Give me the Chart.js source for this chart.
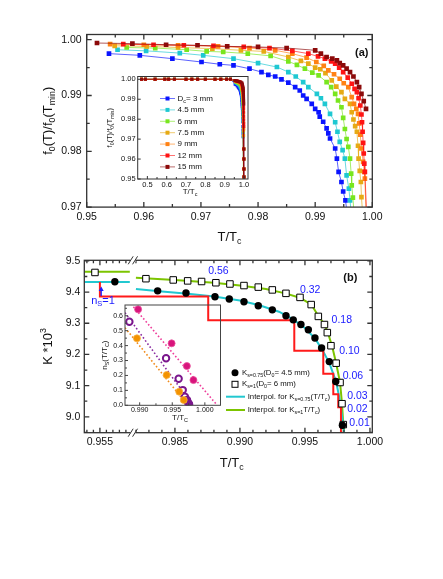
<!DOCTYPE html>
<html><head><meta charset="utf-8">
<script src="https://cdn.jsdelivr.net/npm/chart.js@4.4.1/dist/chart.umd.min.js"></script>
<style>
html,body{margin:0;padding:0;background:#fff;}
#wrap{position:relative;width:443px;height:579px;overflow:hidden;background:#fff;}
canvas{position:absolute;}
</style></head><body>
<div id="wrap">
<canvas id="cA" width="443" height="250" style="left:0;top:0;width:443px;height:250px"></canvas>
<canvas id="cAi" width="160" height="130" style="left:95px;top:70px;width:160px;height:130px"></canvas>
<canvas id="cB" width="443" height="329" style="left:0;top:250px;width:443px;height:329px"></canvas>
<canvas id="cBi" width="140" height="135" style="left:90px;top:295px;width:140px;height:135px"></canvas>
</div>
<script>
// ---------------- DATA: panel (a) ----------------
const seriesNames = ['3 mm', '4.5 mm', '6 mm', '7.5 mm', '9 mm', '12 mm', '15 mm'];
const d3mm = [[0.9539,0.9975],[0.9593,0.9972],[0.9650,0.9966],[0.9701,0.9960],[0.9733,0.9956],[0.9757,0.9954],[0.9785,0.9948],[0.9806,0.9942],[0.9818,0.9937],[0.9830,0.9934],[0.9841,0.9929],[0.9853,0.9923],[0.9865,0.9915],[0.9873,0.9909],[0.9879,0.9900],[0.9885,0.9894],[0.9894,0.9885],[0.9900,0.9876],[0.9906,0.9870],[0.9908,0.9862],[0.9914,0.9853],[0.9920,0.9841],[0.9923,0.9832],[0.9926,0.9823],[0.9935,0.9805],[0.9938,0.9787],[0.9941,0.9763],[0.9946,0.9745],[0.9949,0.9728],[0.9953,0.9712],[0.9956,0.9690]];
const d45mm = [[0.9554,0.9982],[0.9604,0.9980],[0.9663,0.9976],[0.9704,0.9972],[0.9757,0.9966],[0.9800,0.9958],[0.9833,0.9951],[0.9853,0.9942],[0.9866,0.9934],[0.9879,0.9924],[0.9888,0.9915],[0.9903,0.9903],[0.9910,0.9895],[0.9917,0.9885],[0.9926,0.9867],[0.9935,0.9852],[0.9939,0.9835],[0.9943,0.9817],[0.9948,0.9802],[0.9952,0.9787],[0.9955,0.9757],[0.9959,0.9733],[0.9961,0.9712],[0.9963,0.9690]];
const d6mm = [[0.9570,0.9986],[0.9620,0.9985],[0.9675,0.9982],[0.9710,0.9979],[0.9739,0.9978],[0.9782,0.9975],[0.9822,0.9971],[0.9853,0.9961],[0.9868,0.9955],[0.9882,0.9948],[0.9895,0.9941],[0.9906,0.9936],[0.9920,0.9924],[0.9928,0.9915],[0.9935,0.9903],[0.9940,0.9891],[0.9946,0.9879],[0.9949,0.9860],[0.9952,0.9840],[0.9955,0.9822],[0.9958,0.9808],[0.9961,0.9787],[0.9963,0.9760],[0.9964,0.9739],[0.9966,0.9717],[0.9968,0.9690]];
const d75mm = [[0.9549,0.9989],[0.9605,0.9988],[0.9660,0.9986],[0.9720,0.9984],[0.9770,0.9981],[0.9810,0.9979],[0.9853,0.9969],[0.9875,0.9962],[0.9888,0.9957],[0.9900,0.9950],[0.9909,0.9947],[0.9918,0.9940],[0.9929,0.9927],[0.9937,0.9916],[0.9946,0.9906],[0.9952,0.9894],[0.9961,0.9885],[0.9964,0.9870],[0.9967,0.9857],[0.9970,0.9845],[0.9973,0.9835],[0.9975,0.9810],[0.9976,0.9787],[0.9978,0.9765],[0.9980,0.9745],[0.9981,0.9718],[0.9983,0.9690]];
const d9mm = [[0.9541,0.9992],[0.9600,0.9991],[0.9660,0.9990],[0.9730,0.9988],[0.9785,0.9985],[0.9830,0.9981],[0.9860,0.9975],[0.9885,0.9968],[0.9902,0.9960],[0.9915,0.9953],[0.9923,0.9945],[0.9933,0.9938],[0.9943,0.9930],[0.9950,0.9922],[0.9958,0.9915],[0.9964,0.9897],[0.9968,0.9885],[0.9972,0.9876],[0.9975,0.9867],[0.9977,0.9850],[0.9979,0.9830],[0.9981,0.9805],[0.9984,0.9781],[0.9986,0.9763],[0.9987,0.9751],[0.9989,0.9690]];
const d12mm = [[0.9564,0.9992],[0.9617,0.9991],[0.9670,0.9990],[0.9722,0.9989],[0.9775,0.9987],[0.9820,0.9985],[0.9860,0.9980],[0.9888,0.9975],[0.9905,0.9970],[0.9917,0.9966],[0.9928,0.9961],[0.9935,0.9957],[0.9942,0.9950],[0.9949,0.9942],[0.9957,0.9932],[0.9964,0.9921],[0.9969,0.9912],[0.9973,0.9906],[0.9976,0.9895],[0.9979,0.9882],[0.9981,0.9866],[0.9982,0.9852],[0.9983,0.9835],[0.9984,0.9815],[0.9985,0.9796],[0.9986,0.9778],[0.9987,0.9763],[0.9990,0.9690]];
const d15mm = [[0.9518,0.9994],[0.9580,0.9993],[0.9639,0.9991],[0.9694,0.9990],[0.9746,0.9988],[0.9800,0.9987],[0.9850,0.9985],[0.9900,0.9981],[0.9910,0.9975],[0.9920,0.9969],[0.9930,0.9966],[0.9938,0.9963],[0.9943,0.9958],[0.9949,0.9954],[0.9955,0.9948],[0.9961,0.9942],[0.9967,0.9934],[0.9973,0.9924],[0.9977,0.9915],[0.9981,0.9903],[0.9985,0.9890],[0.9989,0.9876]];
const seriesColors = ['#0a14ff', '#1ec8d2', '#78e61e', '#e6aa14', '#ff8214', '#ff1414', '#8c0a0a'];
// inset (a): low temperature points (all at 1.00) and the steep tail
const insetLowT = [0.47, 0.49, 0.54, 0.59, 0.61, 0.64, 0.70, 0.73, 0.76, 0.80, 0.85, 0.88, 0.91, 0.93];
const insetLowF = 1.000;
const insetTail = [[0.9990,0.965],[0.9993,0.960],[0.9996,0.955],[0.9998,0.951]];

// ---------------- DATA: panel (b) ----------------
const BREAK_SHIFT = 0.02423;           // axis break: left block 0.9538-0.9573 is shifted next to 0.982
const circT = [0.95615,0.98367,0.98585,0.98808,0.98918,0.99031,0.99141,0.99249,0.99354,0.99410,0.99469,0.99526,0.99577,0.99628,0.99687,0.99737,0.99788];
const circK = [9.433,9.404,9.397,9.385,9.378,9.369,9.356,9.343,9.324,9.311,9.296,9.279,9.253,9.221,9.177,9.113,8.973];
const sqT = [0.95462,0.98277,0.98487,0.98598,0.98705,0.98815,0.98923,0.99031,0.99141,0.99249,0.99354,0.99462,0.99548,0.99603,0.99650,0.99672,0.99700,0.99740,0.99770,0.99785,0.99795];
const sqK = [9.463,9.443,9.439,9.436,9.434,9.430,9.426,9.421,9.416,9.407,9.396,9.383,9.360,9.322,9.296,9.270,9.228,9.172,9.110,9.042,8.975];
const cyanLeft = [[0.9538,9.432],[0.9573,9.432]];
const cyanRight = [[0.9820,9.410],[0.9840,9.402],[0.9860,9.395],[0.9880,9.386],[0.9900,9.373],[0.9915,9.358],[0.9930,9.337],[0.9940,9.315],[0.9950,9.285],[0.9958,9.250],[0.9964,9.210],[0.9969,9.170],[0.9974,9.112],[0.9977,9.050],[0.9979,8.985],[0.9980,8.949]];
const greenLeft = [[0.9538,9.465],[0.9573,9.465]];
const greenRight = [[0.9820,9.446],[0.9850,9.439],[0.9880,9.430],[0.9900,9.421],[0.9920,9.410],[0.9935,9.396],[0.9946,9.382],[0.9955,9.360],[0.9960,9.325],[0.9965,9.297],[0.9968,9.265],[0.9971,9.225],[0.9974,9.172],[0.9977,9.110],[0.99785,9.042],[0.99795,8.975],[0.9980,8.949]];
const stepT = [0.9550,0.98756,0.99418,0.99641,0.99718,0.99756,0.99777,0.99795];
const stepK = [9.432,9.386,9.310,9.212,9.138,9.072,9.031,8.949];
const nsLabels = ['0.56','0.32','0.18','0.10','0.06','0.03','0.02','0.01'];
const nsLabelT = [0.98756,0.99462,0.99705,0.99764,0.99790,0.99825,0.99825,0.99841];
const nsLabelK = [9.467,9.405,9.310,9.211,9.132,9.067,9.024,8.979];
const nsOneAt = [0.9551, 9.432];
// inset (b)
const magT = [0.98976,0.99490,0.99724,0.99825], magN = [0.643,0.415,0.263,0.169];
const purT = [0.98842,0.99405,0.99598,0.99661,0.99694,0.99727,0.99742,0.99757], purN = [0.560,0.315,0.178,0.102,0.058,0.036,0.018,0.009];
const orgT = [0.98958,0.99414,0.99607,0.99676], orgN = [0.449,0.203,0.091,0.036];
const magFitT = [0.98904,1.0019], magFitN = [0.66,0];
const purFitT = [0.98775,0.99815], purFitN = [0.62,0];
const orgFitT = [0.98775,0.99738], orgFitN = [0.52,0];

// ---------------- TICKS ----------------
const xMajA = [0.95,0.96,0.97,0.98,0.99,1.00], xLabA = ['0.95','0.96','0.97','0.98','0.99','1.00'];
const xMinA = [0.955,0.965,0.975,0.985,0.995];
const yMajA = [0.97,0.98,0.99,1.00], yLabA = ['0.97','0.98','0.99','1.00'];
const yMinA = [0.975,0.985,0.995];
const xMajAi = [0.5,0.6,0.7,0.8,0.9,1.0], xLabAi = ['0.5','0.6','0.7','0.8','0.9','1.0'];
const xMinAi = [0.55,0.65,0.75,0.85,0.95];
const yMajAi = [0.95,0.96,0.97,0.98,0.99,1.00], yLabAi = ['0.95','0.96','0.97','0.98','0.99','1.00'];
const xMajB = [0.955,0.985,0.990,0.995,1.000], xLabB = ['0.955','0.985','0.990','0.995','1.000'];
const xMinB = [0.9540,0.9545,0.9555,0.9560,0.9565,0.9570,0.982,0.983,0.984,0.986,0.987,0.988,0.989,0.991,0.992,0.993,0.994,0.996,0.997,0.998,0.999];
const yMajB = [9.0,9.1,9.2,9.3,9.4,9.5], yLabB = ['9.0','9.1','9.2','9.3','9.4','9.5'];
const yMinB = [8.95,9.05,9.15,9.25,9.35,9.45];
const xMajBi = [0.990,0.995,1.000], xLabBi = ['0.990','0.995','1.000'];
const xMinBi = [0.9925,0.9975];
const yMajBi = [0,0.1,0.2,0.3,0.4,0.5,0.6], yLabBi = ['0.0','0.1','0.2','0.3','0.4','0.5','0.6'];
const yMinBi = [0.05,0.15,0.25,0.35,0.45,0.55,0.65];

// ---------------- HELPERS ----------------
const FAM = "'Liberation Sans', Arial, Helvetica, sans-serif";
const uB = t => (t < 0.97 ? t + BREAK_SHIFT : t);
const pts = arr => arr.map(([x, y]) => ({x, y}));
const ptsB = arr => arr.map(([t, k]) => ({x: uB(t), y: k}));
const zip = (a, b, f = v => v) => a.map((v, i) => ({x: f(v), y: b[i]}));

function drawRich(ctx, parts, x, y, fs, o = {}) {
  ctx.save();
  ctx.translate(x, y);
  if (o.rotate) ctx.rotate(o.rotate);
  ctx.fillStyle = o.color || '#111';
  ctx.textBaseline = 'middle';
  ctx.textAlign = 'left';
  const segs = parts.map(p => {
    const t = p[0], k = p[1] || 'n';
    const size = k === 'n' ? fs : fs * 0.68;
    const font = (o.bold ? 'bold ' : '') + size + 'px ' + FAM;
    ctx.font = font;
    return {t, k, font, w: ctx.measureText(t).width};
  });
  const total = segs.reduce((s, g) => s + g.w, 0);
  let cx = o.align === 'center' ? -total / 2 : o.align === 'right' ? -total : 0;
  for (const g of segs) {
    ctx.font = g.font;
    const dy = g.k === 'sub' ? fs * 0.32 : g.k === 'sup' ? -fs * 0.35 : 0;
    ctx.fillText(g.t, cx, dy);
    cx += g.w;
  }
  ctx.restore();
}

const framePlugin = {
  id: 'frame',
  afterDatasetsDraw(chart, args, o) {
    const {ctx, chartArea: a} = chart;
    const x = chart.scales.x, y = chart.scales.y;
    ctx.save();
    ctx.strokeStyle = o.color; ctx.lineWidth = o.lw;
    ctx.strokeRect(a.left, a.top, a.right - a.left, a.bottom - a.top);
    ctx.beginPath();
    const tk = (vals, len, isX) => {
      for (const v of vals) {
        if (isX) {
          const p = x.getPixelForValue(o.mapX ? o.mapX(v) : v);
          if (p < a.left - 0.5 || p > a.right + 0.5) continue;
          ctx.moveTo(p, a.bottom); ctx.lineTo(p, a.bottom - len);
          if (o.mirror) { ctx.moveTo(p, a.top); ctx.lineTo(p, a.top + len); }
        } else {
          const p = y.getPixelForValue(v);
          if (p < a.top - 0.5 || p > a.bottom + 0.5) continue;
          ctx.moveTo(a.left, p); ctx.lineTo(a.left + len, p);
          if (o.mirror) { ctx.moveTo(a.right, p); ctx.lineTo(a.right - len, p); }
        }
      }
    };
    tk(o.xMaj, o.maj, true); tk(o.xMin, o.min, true);
    tk(o.yMaj, o.maj, false); tk(o.yMin, o.min, false);
    ctx.stroke();
    if (o.breakAt !== undefined) {
      const px = x.getPixelForValue(o.breakAt);
      for (const yy of [a.top, a.bottom]) {
        ctx.fillStyle = '#fff';
        ctx.fillRect(px - 2.5, yy - 2, 5, 4);
        ctx.beginPath();
        for (const off of [-2.2, 2.2]) {
          ctx.moveTo(px + off - 2.5, yy + 4);
          ctx.lineTo(px + off + 2.5, yy - 4);
        }
        ctx.lineWidth = 1; ctx.strokeStyle = o.color;
        ctx.stroke();
      }
    }
    ctx.restore();
  }
};

function axis({min, max, major, labels, size, pad, fit, isX, pos}) {
  return {
    type: 'linear', position: pos, min, max,
    grid: {display: false, drawTicks: false},
    border: {display: false},
    afterBuildTicks: s => { s.ticks = major.map(v => ({value: v})); },
    afterFit: s => { if (isX) s.height = fit; else s.width = fit; },
    ticks: {
      callback: (v, i) => labels[i],
      font: {family: FAM, size}, color: '#111', padding: pad,
      autoSkip: false, maxRotation: 0, minRotation: 0
    }
  };
}

const base = {
  responsive: false, animation: false, devicePixelRatio: 1, events: [],
};

// ---------------- PANEL (a) MAIN ----------------
const seriesA = [d3mm, d45mm, d6mm, d75mm, d9mm, d12mm, d15mm];
const orderIdx = [6, 5, 4, 3, 2, 1, 0];
const textA = {
  id: 'textA',
  afterDraw(chart) {
    const {ctx, chartArea: a} = chart;
    drawRich(ctx, [['f'], ['0', 'sub'], ['(T)/f'], ['0', 'sub'], ['(T'], ['min', 'sub'], [')']], 48, (a.top + a.bottom) / 2, 13, {align: 'center', rotate: -Math.PI / 2});
    drawRich(ctx, [['T/T'], ['c', 'sub']], (a.left + a.right) / 2, 237, 13, {align: 'center'});
    drawRich(ctx, [['(a)']], a.right - 10.5, a.top + 18.5, 11, {align: 'center', bold: true});
  }
};
new Chart(document.getElementById('cA'), {
  type: 'scatter',
  data: {
    datasets: orderIdx.map(i => ({
      label: seriesNames[i], data: pts(seriesA[i]), showLine: true,
      borderColor: seriesColors[i] + 'aa', borderWidth: 1,
      pointStyle: 'rect', pointRadius: 3.3, pointBorderWidth: 0,
      pointBackgroundColor: seriesColors[i], pointBorderColor: seriesColors[i]
    }))
  },
  options: Object.assign({}, base, {
    layout: {padding: {left: 0, top: 34.5, right: 70.7, bottom: 0}},
    plugins: {legend: {display: false}, tooltip: {enabled: false},
      frame: {color: '#333', lw: 1.3, maj: 5, min: 3, mirror: true, xMaj: xMajA, xMin: xMinA, yMaj: yMajA, yMin: yMinA}},
    scales: {
      x: axis({min: 0.95, max: 1.0, major: xMajA, labels: xLabA, size: 10.5, pad: 4, fit: 42.9, isX: true, pos: 'bottom'}),
      y: axis({min: 0.97, max: 1.00093, major: yMajA, labels: yLabA, size: 10.5, pad: 5, fit: 86.7, isX: false, pos: 'left'})
    }
  }),
  plugins: [framePlugin, textA]
});

// ---------------- PANEL (a) INSET ----------------
const textAi = {
  id: 'textAi',
  afterDraw(chart) {
    const {ctx, chartArea: a} = chart;
    drawRich(ctx, [['f'], ['0', 'sub'], ['(T)/f'], ['0', 'sub'], ['(T'], ['min', 'sub'], [')']], 15, (a.top + a.bottom) / 2, 7.5, {align: 'center', rotate: -Math.PI / 2});
    drawRich(ctx, [['T/T'], ['c', 'sub']], 95, 122, 8, {align: 'center'});
    const rowY0 = 28.5, rowDy = 11.4;
    seriesNames.forEach((nm, i) => {
      const yy = rowY0 + i * rowDy;
      ctx.save();
      ctx.strokeStyle = seriesColors[i] + '99'; ctx.lineWidth = 1;
      ctx.beginPath(); ctx.moveTo(65, yy); ctx.lineTo(80, yy); ctx.stroke();
      ctx.fillStyle = seriesColors[i]; ctx.fillRect(70.5, yy - 2, 4, 4);
      ctx.restore();
      const parts = i === 0 ? [['D'], ['c', 'sub'], ['= ' + nm]] : [[nm]];
      drawRich(ctx, parts, 82.5, yy, 8);
    });
  }
};
new Chart(document.getElementById('cAi'), {
  type: 'scatter',
  data: {
    datasets: orderIdx.map(i => ({
      data: insetLowT.map(t => ({x: t, y: insetLowF})).concat(pts(seriesA[i]).filter(p => p.y >= 0.97), pts(insetTail)),
      showLine: true, borderColor: seriesColors[i] + 'aa', borderWidth: 1,
      pointStyle: 'rect', pointRadius: 2.1, pointBorderWidth: 0,
      pointBackgroundColor: seriesColors[i], pointBorderColor: seriesColors[i]
    }))
  },
  options: Object.assign({}, base, {
    layout: {padding: {left: 0, top: 6.5, right: 7, bottom: 0}},
    plugins: {legend: {display: false}, tooltip: {enabled: false},
      frame: {color: '#333', lw: 1, maj: 3, min: 2, mirror: false, xMaj: xMajAi, xMin: xMinAi, yMaj: yMajAi, yMin: []}},
    scales: {
      x: axis({min: 0.45, max: 1.0207, major: xMajAi, labels: xLabAi, size: 7.5, pad: 1.5, fit: 21, isX: true, pos: 'bottom'}),
      y: axis({min: 0.95, max: 1.0014, major: yMajAi, labels: yLabAi, size: 7.5, pad: 2, fit: 42.7, isX: false, pos: 'left'})
    }
  }),
  plugins: [framePlugin, textAi]
});

// ---------------- PANEL (b) MAIN ----------------
const textB = {
  id: 'textB',
  afterDraw(chart) {
    const {ctx, chartArea: a} = chart;
    const x = chart.scales.x, y = chart.scales.y;
    drawRich(ctx, [['K *10'], ['3', 'sup']], 48, (a.top + a.bottom) / 2, 13, {align: 'center', rotate: -Math.PI / 2});
    drawRich(ctx, [['T/T'], ['c', 'sub']], 231.7, 213.3, 13, {align: 'center'});
    drawRich(ctx, [['(b)']], a.right - 22, a.top + 18, 11, {align: 'center', bold: true});
    // n_s labels
    nsLabels.forEach((s, i) => {
      drawRich(ctx, [[s]], x.getPixelForValue(uB(nsLabelT[i])), y.getPixelForValue(nsLabelK[i]), 10.5, {color: '#1a1aff'});
    });
    // n_S = 1 arrow
    const px = x.getPixelForValue(uB(nsOneAt[0])), py = y.getPixelForValue(nsOneAt[1]);
    ctx.save();
    ctx.strokeStyle = '#1a1aff'; ctx.fillStyle = '#1a1aff'; ctx.lineWidth = 1.3;
    ctx.beginPath(); ctx.moveTo(px, py + 14); ctx.lineTo(px, py + 8); ctx.stroke();
    ctx.beginPath(); ctx.moveTo(px, py + 4.5); ctx.lineTo(px - 2.5, py + 9); ctx.lineTo(px + 2.5, py + 9); ctx.closePath(); ctx.fill();
    ctx.restore();
    drawRich(ctx, [['n'], ['S', 'sub'], ['=1']], px - 10, py + 18.5, 11, {color: '#1a1aff'});
    // legend
    const lx = 235;
    ctx.save();
    ctx.fillStyle = '#000';
    ctx.beginPath(); ctx.arc(lx, 122.7, 3.5, 0, Math.PI * 2); ctx.fill();
    ctx.strokeStyle = '#000'; ctx.lineWidth = 1; ctx.fillStyle = '#fff';
    ctx.fillRect(lx - 3, 131.3, 6, 6); ctx.strokeRect(lx - 3, 131.3, 6, 6);
    ctx.lineWidth = 2;
    ctx.strokeStyle = '#22c8d0'; ctx.beginPath(); ctx.moveTo(226, 146.7); ctx.lineTo(245, 146.7); ctx.stroke();
    ctx.strokeStyle = '#7cc400'; ctx.beginPath(); ctx.moveTo(226, 160); ctx.lineTo(245, 160); ctx.stroke();
    ctx.restore();
    const lf = 7.8;
    drawRich(ctx, [['K'], ['s=0.75', 'sub'], ['(D'], ['0', 'sub'], ['= 4.5 mm)']], 242, 122.7, lf);
    drawRich(ctx, [['K'], ['s=1', 'sub'], ['(D'], ['0', 'sub'], ['= 6 mm)']], 242, 134.3, lf);
    drawRich(ctx, [['Interpol. for K'], ['s=0.75', 'sub'], ['(T/T'], ['c', 'sub'], [')']], 247.7, 146.7, lf);
    drawRich(ctx, [['Interpol. for K'], ['s=1', 'sub'], ['T/T'], ['c', 'sub'], [')']], 247.7, 160, lf);
  }
};
const lineDs = (data, color, w) => ({data, showLine: true, borderColor: color, borderWidth: w, pointRadius: 0});
new Chart(document.getElementById('cB'), {
  type: 'scatter',
  data: {
    datasets: [
      {data: zip(circT, circK, uB), pointStyle: 'circle', pointRadius: 3.7, pointBackgroundColor: '#000', pointBorderColor: '#000', pointBorderWidth: 0},
      {data: zip(sqT, sqK, uB), pointStyle: 'rect', pointRadius: 4.6, pointBackgroundColor: '#fff', pointBorderColor: '#000', pointBorderWidth: 1},
      Object.assign(lineDs(zip(stepT, stepK, uB), '#ff1a1a', 2), {stepped: 'after'}),
      lineDs(ptsB(cyanLeft), '#22c8d0', 2),
      lineDs(ptsB(cyanRight), '#22c8d0', 2),
      lineDs(ptsB(greenLeft), '#7cc400', 2),
      lineDs(ptsB(greenRight), '#7cc400', 2)
    ]
  },
  options: Object.assign({}, base, {
    layout: {padding: {left: 0, top: 8.3, right: 70.7, bottom: 0}},
    plugins: {legend: {display: false}, tooltip: {enabled: false},
      frame: {color: '#333', lw: 1.3, maj: 5, min: 3, mirror: true, mapX: uB, xMaj: xMajB, xMin: xMinB, yMaj: yMajB, yMin: yMinB, breakAt: (uB(0.9573) + 0.9820) / 2}},
    scales: {
      x: Object.assign(axis({min: uB(0.9538), max: 1.00018, major: xMajB.map(uB), labels: xLabB, size: 10.5, pad: 3, fit: 146.3, isX: true, pos: 'bottom'})),
      y: axis({min: 8.949, max: 9.502, major: yMajB, labels: yLabB, size: 10.5, pad: 4, fit: 84.3, isX: false, pos: 'left'})
    }
  }),
  plugins: [framePlugin, textB]
});

// ---------------- PANEL (b) INSET ----------------
const textBi = {
  id: 'textBi',
  afterDraw(chart) {
    const {ctx, chartArea: a} = chart;
    drawRich(ctx, [['n'], ['S', 'sub'], ['(T/T'], ['C', 'sub'], [')']], 15, (a.top + a.bottom) / 2, 8, {align: 'center', rotate: -Math.PI / 2});
    drawRich(ctx, [['T/T'], ['C', 'sub']], 90, 123, 8, {align: 'center'});
  }
};
const dotted = (t, n, color) => ({data: zip(t, n), showLine: true, borderColor: color, borderWidth: 1.6, borderDash: [1.6, 2.2], pointRadius: 0});
new Chart(document.getElementById('cBi'), {
  type: 'scatter',
  data: {
    datasets: [
      {data: zip(magT, magN), pointRadius: 3.5, pointBackgroundColor: '#d8147c', pointBorderColor: '#e8509c', pointBorderWidth: 0.8},
      {data: zip(orgT, orgN), pointRadius: 3.5, pointBackgroundColor: '#f39200', pointBorderColor: '#f8b040', pointBorderWidth: 0.8},
      {data: zip(purT, purN), pointRadius: 3.2, pointBorderWidth: 2, pointBorderColor: '#7a168c',
       pointBackgroundColor: c => (c.dataIndex >= 5 ? '#7a168c' : '#fff')},
      dotted(magFitT, magFitN, '#ee3d9a'),
      dotted(purFitT, purFitN, '#8a2aa0'),
      dotted(orgFitT, orgFitN, '#f08a1a')
    ]
  },
  options: Object.assign({}, base, {
    layout: {padding: {left: 0, top: 10, right: 9.5, bottom: 0}},
    plugins: {legend: {display: false}, tooltip: {enabled: false},
      frame: {color: '#444', lw: 1, maj: 3, min: 2, mirror: false, xMaj: xMajBi, xMin: xMinBi, yMaj: yMajBi, yMin: yMinBi}},
    scales: {
      x: axis({min: 0.98775, max: 1.0024, major: xMajBi, labels: xLabBi, size: 7, pad: 1, fit: 24.7, isX: true, pos: 'bottom'}),
      y: axis({min: 0, max: 0.672, major: yMajBi, labels: yLabBi, size: 7, pad: 2, fit: 35, isX: false, pos: 'left'})
    }
  }),
  plugins: [framePlugin, textBi]
});
</script>
</body></html>
